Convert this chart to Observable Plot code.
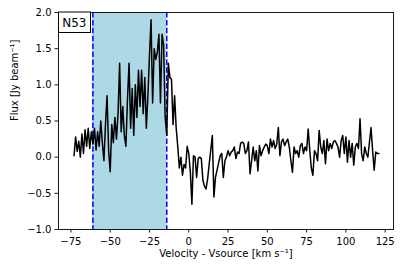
<!DOCTYPE html>
<html>
<head>
<meta charset="utf-8">
<script src="https://cdn.jsdelivr.net/npm/d3@7"></script>
<script src="https://cdn.jsdelivr.net/npm/@observablehq/plot@0.6"></script>
<style>
  html, body { margin: 0; padding: 0; background: #fff; }
  #chart svg { display: block; }
</style>
</head>
<body>
<div id="chart"></div>
<script>
// Channel velocities (km/s) and flux (Jy/beam)
const velocity = [
  -73,-72,-71,-70,-69,-68,-67,-66,-65,-64,-63,-62,-61,
  -60,-59,-58,-57,-56,-55,-54,-53,-52,-51,-50,-49,-48,-47,-46,-45,-44,-43,-42,-41,
  -40,-39,-38,-37,-36,-35,-34,-33,-32,-31,-30,-29,-28,-27,-26,-25,-24,-23,-22,-21,
  -20,-19,-18,-17,-16,-15,-14,-13,-12,-11,-10,-9,-8,-7,-6,-5,-4,-3,-2,-1,
  0,1,2,3,4,5,6,7,8,9,10,11,12,13,14,15,16,17,18,19,
  20,21,22,23,24,25,26,27,28,29,30,31,32,33,34,35,36,37,38,39,
  40,41,42,43,44,45,46,47,48,49,50,51,52,53,54,55,56,57,58,59,
  60,61,62,63,64,65,66,67,68,69,70,71,72,73,74,75,76,77,78,79,
  80,81,82,83,84,85,86,87,88,89,90,91,92,93,94,95,96,97,98,99,
  100,101,102,103,104,105,106,107,108,109,110,111,112,113,114,115,116,117,118,119,
  120,121
];
const flux = [
  0.02,0.28,0.08,0.22,0.00,0.32,0.05,0.38,0.15,0.40,0.12,0.35,0.18,
  0.40,0.10,0.35,0.15,0.50,0.20,-0.05,0.45,0.85,0.10,-0.20,0.45,0.20,0.55,0.25,0.60,1.30,0.35,0.70,0.30,
  0.15,0.80,1.30,0.40,0.95,0.30,1.00,0.55,1.20,0.70,1.20,0.60,1.10,0.40,0.85,1.40,1.90,0.75,1.50,1.35,
  1.45,1.70,0.75,1.70,1.55,0.55,0.30,1.30,1.10,1.08,0.45,0.85,0.40,0.15,-0.15,0.00,-0.25,-0.10,-0.15,0.15,
  0.05,-0.20,-0.65,0.02,0.00,-0.28,-0.02,0.00,-0.02,-0.32,-0.40,-0.44,-0.30,-0.10,0.10,0.30,-0.55,-0.28,-0.18,-0.08,
  0.02,0.05,-0.28,-0.05,0.00,0.09,0.02,0.07,0.09,0.14,-0.02,0.07,0.05,0.19,0.21,0.19,0.05,0.09,0.21,-0.23,
  -0.05,0.14,-0.05,0.09,-0.19,0.16,0.02,0.09,0.14,0.18,0.16,0.05,0.25,0.14,0.23,0.12,0.18,0.41,0.02,0.21,
  0.25,0.16,0.21,0.25,0.14,-0.05,-0.21,0.14,0.05,0.09,0.00,0.16,0.19,0.05,0.14,0.09,0.39,0.10,-0.15,-0.25,
  0.09,0.05,-0.05,0.37,0.14,0.05,0.23,-0.09,0.25,0.09,0.19,0.12,0.21,0.23,0.19,0.14,0.00,0.23,0.30,0.05,
  0.28,-0.07,0.23,0.00,0.19,-0.11,0.14,0.19,0.12,0.53,0.05,-0.05,0.14,0.05,0.00,0.21,0.41,0.09,-0.18,0.07,
  0.05,0.05
];
const windowEdges = [-61, -14];
const xTicks = [-75, -50, -25, 0, 25, 50, 75, 100, 125];
const yTicks = [-1.0, -0.5, 0.0, 0.5, 1.0, 1.5, 2.0];
const xDomain = [-82.9, 130.3];
const yDomain = [-1, 2];
const sourceLabel = "N53";
const xTitle = "Velocity - Vsource [km s\u207B\u00B9]";
const yTitle = "Flux [Jy beam\u207B\u00B9]";

const spectrum = velocity.map((v, i) => ({v, f: flux[i]}));
const band = [{x1: windowEdges[0], x2: windowEdges[1], y1: yDomain[0], y2: yDomain[1]}];

const font = "DejaVu Sans, sans-serif";

const svg = Plot.plot({
  width: 400,
  height: 272,
  marginLeft: 58,
  marginRight: 7,
  marginTop: 12,
  marginBottom: 43,
  style: {fontFamily: font, fontSize: "10px", color: "black", background: "white", overflow: "visible"},
  x: {domain: xDomain},
  y: {domain: yDomain},
  marks: [
    Plot.rect(band, {x1: "x1", x2: "x2", y1: "y1", y2: "y2", fill: "#add8e6"}),
    Plot.ruleX(windowEdges, {stroke: "#0000ff", strokeWidth: 1.5, strokeDasharray: "5.5,2.4"}),
    Plot.line(spectrum, {x: "v", y: "f", stroke: "black", strokeWidth: 1.5, strokeLinejoin: "round"}),
    Plot.frame({stroke: "black", strokeWidth: 0.9}),
    Plot.axisX({ticks: xTicks, tickSize: 3.5, tickPadding: 4.5, tickFormat: d3.format("d"), label: null, fontSize: 10, strokeWidth: 0.9}),
    Plot.axisY({ticks: yTicks, tickSize: 3.5, tickPadding: 3.5, tickFormat: d3.format(".1f"), label: null, fontSize: 10, strokeWidth: 0.9}),
    Plot.text([xTitle], {frameAnchor: "bottom", dy: 27, fontSize: 10, fill: "black"}),
    Plot.text([yTitle], {frameAnchor: "left", dx: -44, rotate: -90, fontSize: 10, fill: "black"})
  ]
});

document.getElementById("chart").appendChild(svg);

// Anchored label box at the upper-left corner of the axes
const g = d3.select(svg).append("g");
g.append("rect")
  .attr("x", 58.5).attr("y", 12.0)
  .attr("width", 32).attr("height", 20.5)
  .attr("fill", "white").attr("stroke", "black").attr("stroke-width", 1);
g.append("text")
  .attr("x", 62.2).attr("y", 26.7)
  .attr("text-anchor", "start")
  .attr("font-family", font).attr("font-size", 12)
  .attr("fill", "black")
  .text(sourceLabel);
</script>
</body>
</html>
